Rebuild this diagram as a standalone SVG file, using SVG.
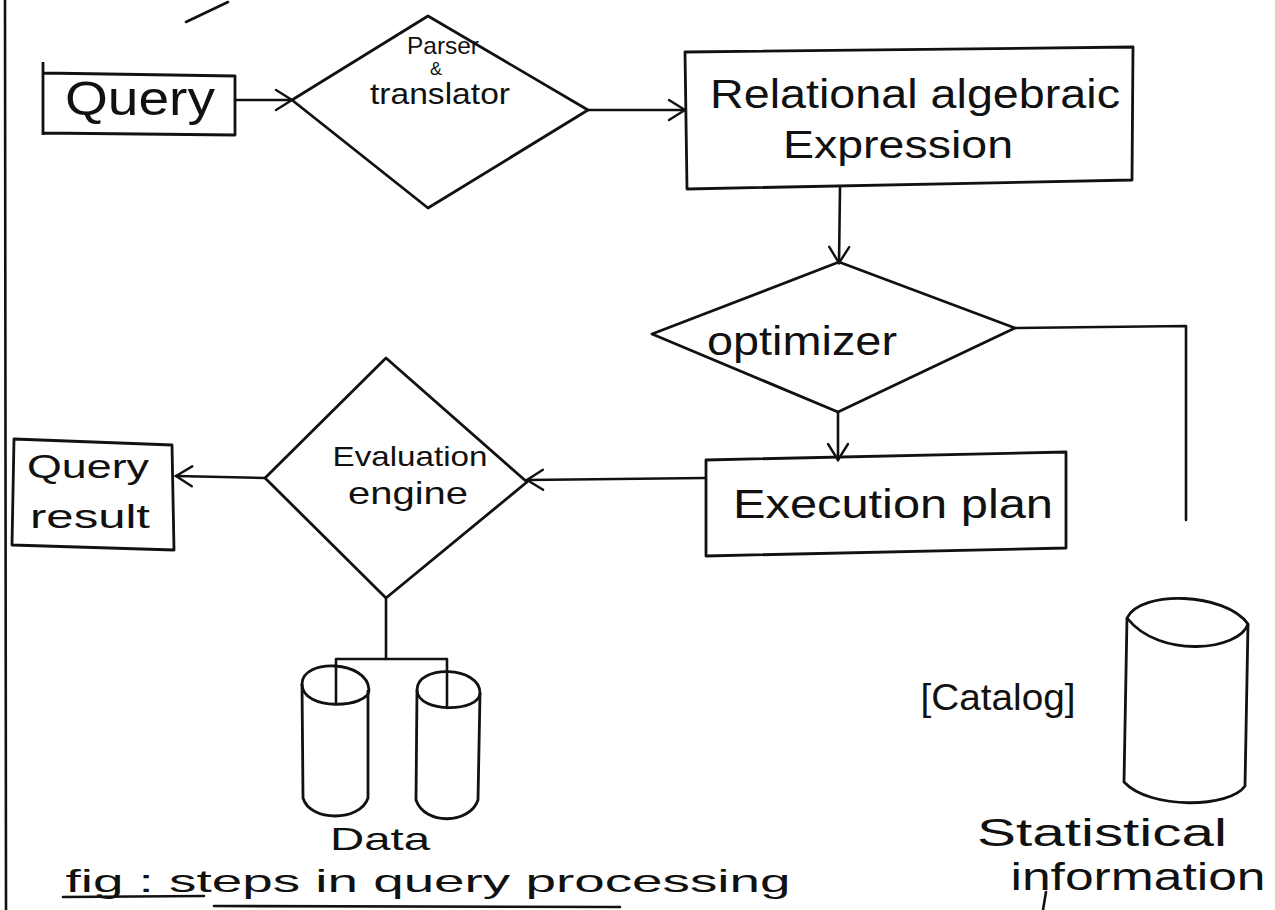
<svg xmlns="http://www.w3.org/2000/svg" width="1275" height="910" viewBox="0 0 1275 910">
  <defs>
    <style>
      .ln { fill: none; stroke: #111; stroke-width: 2.6; stroke-linecap: round; stroke-linejoin: round; }
      .bx { fill: none; stroke: #111; stroke-width: 2.8; stroke-linejoin: round; }
      .tx { font-family: "Liberation Sans", "DejaVu Sans", sans-serif; fill: #111; text-anchor: middle; }
    </style>
    <!-- open V arrowhead, like a pen stroke -->
    <marker id="arr" viewBox="-20 -12 24 24" markerWidth="24" markerHeight="24" refX="0" refY="0" orient="auto" markerUnits="userSpaceOnUse">
      <path d="M-16,-10 L0,0 L-16,10" fill="none" stroke="#111" stroke-width="2.4" stroke-linecap="round"/>
    </marker>
  </defs>
  <rect width="1275" height="910" fill="#ffffff"/>

  <!-- page margin rule and stray pen mark -->
  <line class="ln" x1="5" y1="0" x2="6" y2="910"/>
  <line class="ln" x1="186" y1="22" x2="228" y2="2" stroke-width="1.6"/>

  <!-- connectors -->
  <g id="connectors">
    <line class="ln" x1="235" y1="100" x2="292" y2="100" marker-end="url(#arr)"/>
    <line class="ln" x1="588" y1="110" x2="685" y2="110" marker-end="url(#arr)"/>
    <line class="ln" x1="840" y1="188" x2="839" y2="263" marker-end="url(#arr)"/>
    <line class="ln" x1="838" y1="412" x2="838" y2="460" marker-end="url(#arr)"/>
    <line class="ln" x1="705" y1="478" x2="527" y2="480" marker-end="url(#arr)"/>
    <line class="ln" x1="265" y1="478" x2="176" y2="476" marker-end="url(#arr)"/>
    <polyline class="ln" points="1015,328 1186,326 1186,520"/>
    <polyline class="ln" points="386,598 386,659"/>
    <polyline class="ln" points="336,704 336,659 447,659 447,708"/>
  </g>

  <g id="query">
    <path class="bx" d="M43,62 L43,135 M43,73 L235,76 L235,135 L43,133"/>
    <text class="tx" x="140" y="115" font-size="48" textLength="150" lengthAdjust="spacingAndGlyphs">Query</text>
  </g>

  <g id="parser">
    <polygon class="bx" points="292,100 428,16 588,110 428,208"/>
    <text class="tx" x="443" y="54" font-size="24" textLength="72" lengthAdjust="spacingAndGlyphs">Parser</text>
    <text class="tx" x="436" y="75" font-size="18">&amp;</text>
    <text class="tx" x="440" y="104" font-size="30" textLength="140" lengthAdjust="spacingAndGlyphs">translator</text>
  </g>

  <g id="relational">
    <polygon class="bx" points="685,52 1133,47 1132,180 687,189"/>
    <text class="tx" x="915" y="108" font-size="40" textLength="410" lengthAdjust="spacingAndGlyphs">Relational algebraic</text>
    <text class="tx" x="898" y="158" font-size="38" textLength="230" lengthAdjust="spacingAndGlyphs">Expression</text>
  </g>

  <g id="optimizer">
    <polygon class="bx" points="652,334 839,262 1015,328 838,412"/>
    <text class="tx" x="802" y="355" font-size="40" textLength="190" lengthAdjust="spacingAndGlyphs">optimizer</text>
  </g>

  <g id="execution-plan">
    <polygon class="bx" points="706,460 1066,452 1066,548 706,556"/>
    <text class="tx" x="893" y="518" font-size="40" textLength="320" lengthAdjust="spacingAndGlyphs">Execution plan</text>
  </g>

  <g id="evaluation">
    <polygon class="bx" points="265,478 386,358 527,482 386,598"/>
    <text class="tx" x="410" y="466" font-size="28" textLength="155" lengthAdjust="spacingAndGlyphs">Evaluation</text>
    <text class="tx" x="408" y="504" font-size="32" textLength="120" lengthAdjust="spacingAndGlyphs">engine</text>
  </g>

  <g id="query-result">
    <polygon class="bx" points="14,439 172,445 174,550 12,545"/>
    <text class="tx" x="88" y="478" font-size="34" textLength="122" lengthAdjust="spacingAndGlyphs">Query</text>
    <text class="tx" x="90" y="528" font-size="34" textLength="120" lengthAdjust="spacingAndGlyphs">result</text>
  </g>

  <g id="data">
    <!-- left disk -->
    <path class="bx" d="M302,684 C302,658 368,660 369,690 C369,708 302,712 302,684 Z"/>
    <path class="bx" d="M302,684 L303,798 C310,822 360,822 368,798 L368,690"/>
    <!-- right disk -->
    <path class="bx" d="M417,690 C417,664 480,666 480,693 C480,712 418,714 417,690 Z"/>
    <path class="bx" d="M417,690 L416,800 C425,826 470,824 478,800 L480,693"/>
    <text class="tx" x="380" y="850" font-size="32" textLength="100" lengthAdjust="spacingAndGlyphs">Data</text>
  </g>

  <g id="statistics">
    <path class="bx" d="M1127,618 C1140,590 1225,592 1248,624 C1240,650 1160,660 1127,618 Z"/>
    <path class="bx" d="M1127,618 L1124,782 C1150,810 1230,808 1245,786 L1248,624"/>
    <text class="tx" x="998" y="710" font-size="36" textLength="155" lengthAdjust="spacingAndGlyphs">[Catalog]</text>
    <text class="tx" x="1102" y="846" font-size="38" textLength="250" lengthAdjust="spacingAndGlyphs">Statistical</text>
    <text class="tx" x="1138" y="890" font-size="38" textLength="255" lengthAdjust="spacingAndGlyphs">information</text>
    <line class="ln" x1="1046" y1="892" x2="1043" y2="910"/>
  </g>

  <g id="caption">
    <text class="tx" x="428" y="892" font-size="32" textLength="725" lengthAdjust="spacingAndGlyphs">fig : steps in query processing</text>
    <line class="ln" x1="63" y1="897" x2="204" y2="896"/>
    <line class="ln" x1="214" y1="906" x2="620" y2="907"/>
  </g>
</svg>
